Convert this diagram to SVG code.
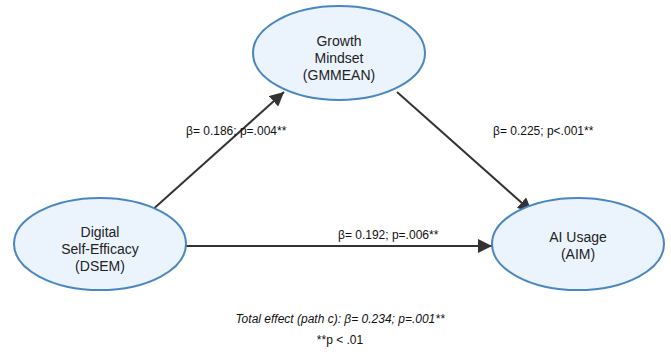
<svg xmlns="http://www.w3.org/2000/svg" width="671" height="354" viewBox="0 0 671 354">
<style>
.node{fill:#EBF4FD;stroke:#4A86C0;stroke-width:2}
.nt{font-family:"Liberation Sans",Arial,sans-serif;font-size:14px;fill:#222;text-anchor:middle}
.lb{font-family:"Liberation Sans",Arial,sans-serif;font-size:12px;fill:#111}
.edge{stroke:#333;stroke-width:2;fill:none;marker-end:url(#ah)}
.ft{font-family:"Liberation Sans",Arial,sans-serif;font-size:12px;fill:#111;text-anchor:middle}
</style>
<defs>
<marker id="ah" viewBox="0 0 10 10" refX="10" refY="5" markerWidth="7" markerHeight="7" orient="auto" markerUnits="strokeWidth">
<path d="M0,0 L10,5 L0,10 z" fill="#333"/>
</marker>
</defs>
<rect width="671" height="354" fill="#fff"/>
<g id="connectors">
<line class="edge" x1="150" y1="212" x2="284" y2="92"/>
<line class="edge" x1="397" y1="92" x2="532" y2="212"/>
<line class="edge" x1="186" y1="246" x2="492" y2="246"/>
</g>
<g id="GMMEAN">
<ellipse class="node" cx="339" cy="53" rx="86" ry="47"/>
<text class="nt" x="339" y="46">Growth</text>
<text class="nt" x="339" y="63">Mindset</text>
<text class="nt" x="339" y="80">(GMMEAN)</text>
</g>
<g id="DSEM">
<ellipse class="node" cx="100" cy="244" rx="86" ry="46"/>
<text class="nt" x="100" y="237">Digital</text>
<text class="nt" x="100" y="254">Self-Efficacy</text>
<text class="nt" x="100" y="271">(DSEM)</text>
</g>
<g id="AIM">
<ellipse class="node" cx="578" cy="244" rx="86" ry="46"/>
<text class="nt" x="578" y="242">AI Usage</text>
<text class="nt" x="578" y="259">(AIM)</text>
</g>
<g id="labels">
<text class="lb" x="186" y="135">β= 0.186; p=.004**</text>
<text class="lb" x="493" y="135">β= 0.225; p&lt;.001**</text>
<text class="lb" x="338" y="239">β= 0.192; p=.006**</text>
<text class="ft" x="340" y="323" font-style="italic">Total effect (path c): β= 0.234; p=.001**</text>
<text class="ft" x="340" y="344">**p &lt; .01</text>
</g>
</svg>
